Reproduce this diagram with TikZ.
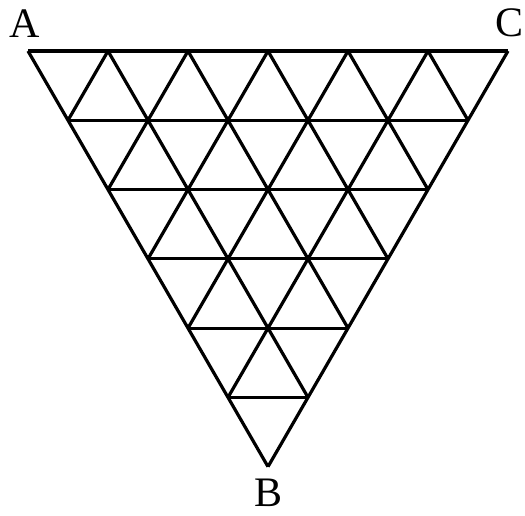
\documentclass[tikz,border=0pt]{standalone}
\usepackage{fontspec}
\setmainfont{Liberation Serif}
\begin{document}
\begin{tikzpicture}[x=1pt,y=1pt,
  gridline/.style={line width=3.2pt,line join=miter,black},
  corner/.style={inner sep=0pt,font=\fontsize{42}{42}\selectfont}]
\useasboundingbox (0,0) rectangle (525,-516);
% grid points P(i,j): row i from top, position j
\foreach \i in {0,...,6}{
  \pgfmathtruncatemacro{\m}{6-\i}
  \foreach \j in {0,...,\m}{
    \coordinate (P-\i-\j) at ({28+40*\i+80*\j},{-51-69.28*\i});
  }
}
\coordinate (A) at (P-0-0);
\coordinate (C) at (P-0-6);
\coordinate (B) at (P-6-0);
% horizontal lines
\foreach \i in {0,...,5}{
  \pgfmathtruncatemacro{\m}{6-\i}
  \draw[gridline] (P-\i-0) -- (P-\i-\m);
}
% lines parallel to AB
\foreach \j in {0,...,5}{
  \pgfmathtruncatemacro{\m}{6-\j}
  \draw[gridline] (P-0-\j) -- (P-\m-\j);
}
% lines parallel to CB
\foreach \k in {1,...,6}{
  \draw[gridline] (P-0-\k) -- (P-\k-0);
}
\node[corner] (lA) at (25,-24) {A};
\node[corner] (lC) at (510,-23) {C};
\node[corner] (lB) at (269,-493) {B};
\end{tikzpicture}
\end{document}
